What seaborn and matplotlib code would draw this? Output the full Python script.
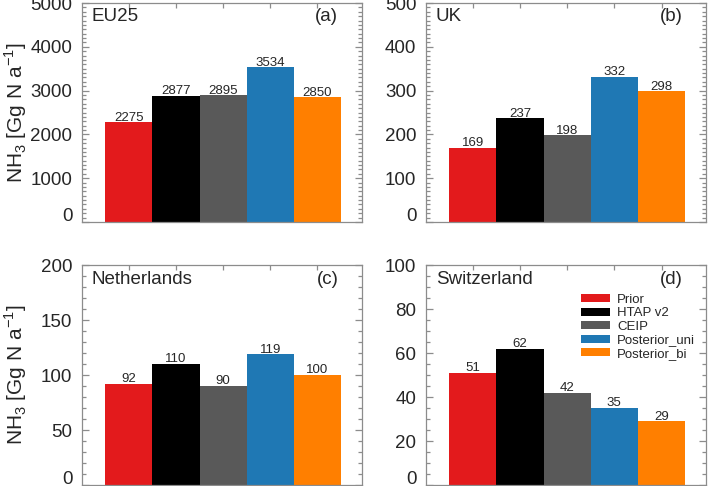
import matplotlib
matplotlib.use("Agg")
import matplotlib.pyplot as plt
from matplotlib.patches import Patch
from matplotlib.ticker import MultipleLocator, FuncFormatter
import pandas as pd
import seaborn as sns

# data
inventories = ["Prior", "HTAP v2", "CEIP", "Posterior_uni", "Posterior_bi"]
colors = ["#e31a1c", "#000000", "#595959", "#1f78b4", "#ff7f00"]

regions = ["EU25", "UK", "Netherlands", "Switzerland"]
panel_tags = ["(a)", "(b)", "(c)", "(d)"]
eu25 = [2275, 2877, 2895, 3534, 2850]
uk = [169, 237, 198, 332, 298]
netherlands = [92, 110, 90, 119, 100]
switzerland = [51, 62, 42, 35, 29]

y_max = [5000, 500, 200, 100]
y_major = [1000, 100, 50, 20]
y_minor = [100, 10, 10, 5]

sns.set_style("ticks")
plt.rcParams["font.family"] = ["Liberation Sans", "DejaVu Sans"]
plt.rcParams["mathtext.fontset"] = "custom"
plt.rcParams["mathtext.rm"] = "Liberation Sans"

frame_col = "#8c8c8c"

fig = plt.figure(figsize=(7.09, 4.86), dpi=100)
# axes boxes in figure fractions (left, bottom, width, height)
boxes = [
    (0.1157, 0.5432, 0.395, 0.4506),
    (0.6009, 0.5432, 0.395, 0.4506),
    (0.1157, 0.0020, 0.395, 0.4527),
    (0.6009, 0.0020, 0.395, 0.4527),
]

all_values = [eu25, uk, netherlands, switzerland]

for i, vals in enumerate(all_values):
    ax = fig.add_axes(boxes[i])
    df = pd.DataFrame({"inventory": inventories, "value": vals})
    sns.barplot(data=df, x="inventory", y="value", hue="inventory",
                palette=colors, saturation=1, width=1.0, linewidth=0, ax=ax,
                legend=False, order=inventories, hue_order=inventories)

    for cont in ax.containers:
        ax.bar_label(cont, fmt="%d", padding=-1, fontsize=9.5)

    ax.set_xlim(-0.99, 4.945)
    ax.set_ylim(0, y_max[i])
    ax.set_xticks(range(5))
    ax.set_xticklabels([])
    ax.set_xlabel("")
    ax.set_ylabel("")
    ax.yaxis.set_major_locator(MultipleLocator(y_major[i]))
    ax.yaxis.set_minor_locator(MultipleLocator(y_minor[i]))
    # zero is written separately, resting on the bottom frame like the original
    ax.yaxis.set_major_formatter(FuncFormatter(lambda v, p: "" if v == 0 else f"{v:g}"))
    ax.annotate("0", xy=(0, 0), xycoords=("axes fraction", "data"),
                xytext=(-7, 0.5), textcoords="offset points",
                ha="right", va="baseline", fontsize=13.5)

    ax.tick_params(axis="both", which="both", direction="in", color=frame_col,
                   top=True, right=True)
    ax.tick_params(axis="y", which="major", length=5, width=0.9,
                   labelsize=13.5, pad=7)
    ax.tick_params(axis="y", which="minor", length=3, width=0.9,
                   left=True, right=True)
    ax.tick_params(axis="x", which="major", length=3.5, width=0.9)
    ax.tick_params(axis="x", which="minor", bottom=False, top=False)
    for sp in ax.spines.values():
        sp.set_color(frame_col)
        sp.set_linewidth(0.9)
        sp.set_visible(True)

    ax.text(0.035, 0.975, regions[i], transform=ax.transAxes,
            ha="left", va="top", fontsize=13.5)
    ax.text(0.915, 0.975, panel_tags[i], transform=ax.transAxes,
            ha="right", va="top", fontsize=13.5)

    if i in (0, 2):
        ax.set_ylabel(r"NH$_3$ [Gg N a$^{-1}$]", fontsize=15)
        ax.yaxis.set_label_coords(-0.19, 0.5)

    if i == 3:
        handles = [Patch(facecolor=c, edgecolor="none") for c in colors]
        ax.legend(handles, inventories, loc="upper left",
                  bbox_to_anchor=(0.555, 0.87), frameon=False,
                  fontsize=9.5, handlelength=2.2, handleheight=0.55,
                  handletextpad=0.5, labelspacing=0.12, borderpad=0,
                  borderaxespad=0)

fig.savefig("out.png", dpi=100)
